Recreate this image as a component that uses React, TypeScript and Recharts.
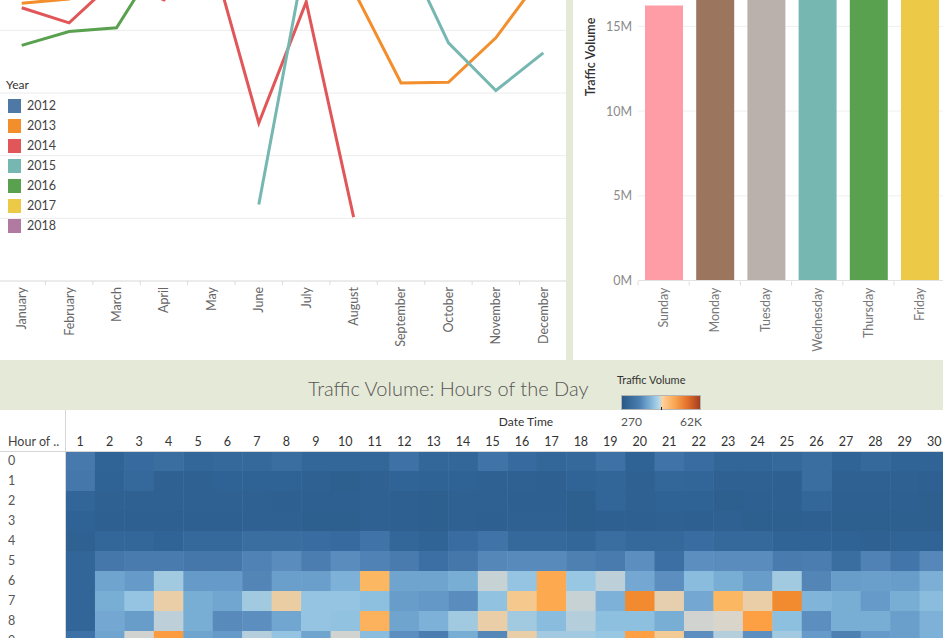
import {
  LineChart,
  Line,
  XAxis,
  YAxis,
  CartesianGrid,
  BarChart,
  Bar,
  Cell,
  ScatterChart,
  Scatter,
} from "recharts";

const FONT = "Lato, 'Open Sans', sans-serif";
const BAND_BG = "#e5e9d7";

// ---- monthly volume by year (millions) ----
const MONTHS = [
  "January", "February", "March", "April", "May", "June",
  "July", "August", "September", "October", "November", "December",
];
const YEARS = ["2012", "2013", "2014", "2015", "2016", "2017", "2018"];
const YEAR_COLORS = ["#4e79a7", "#f28e2b", "#e15759", "#76b7b2", "#59a14f", "#edc948", "#b07aa1"];

const vol2012 = [null, null, null, null, null, null, null, null, null, 2.35, 2.38, 2.31];
const vol2013 = [2.217, 2.25, 2.4, 2.45, 2.5, 2.45, 2.4, 2.32, 1.58, 1.585, 1.94, 2.45];
const vol2014 = [2.18, 2.06, 2.41, 2.243, 2.61, 1.26, 2.227, 0.51, null, null, null, null];
const vol2015 = [null, null, null, null, null, 0.61, 2.63, 2.55, 2.7, 1.9, 1.52, 1.82];
const vol2016 = [1.88, 1.99, 2.02, 2.62, 2.55, 2.5, 2.45, 2.5, 2.48, 2.5, 2.4, 2.35];
const vol2017 = [2.3, 2.35, 2.45, 2.5, 2.55, 2.5, 2.45, 2.55, 2.5, 2.55, 2.45, 2.35];
const vol2018 = [2.35, 2.3, 2.45, 2.5, 2.55, 2.45, 2.4, 2.5, 2.45, null, null, null];
const YEAR_SERIES = [vol2012, vol2013, vol2014, vol2015, vol2016, vol2017, vol2018];
const LINE_TICKS = [0, 0.5, 1, 1.5, 2, 2.5, 3];

// ---- volume by weekday ----
const WEEKDAYS = ["Sunday", "Monday", "Tuesday", "Wednesday", "Thursday", "Friday", "Saturday"];
const WEEKDAY_VOLUME = [16230000, 22800000, 24000000, 24500000, 24800000, 24200000, 19200000];
const WEEKDAY_COLORS = ["#ff9da7", "#9c755f", "#bab0ac", "#76b7b2", "#59a14f", "#edc948", "#b07aa1"];
const BAR_TICKS = [0, 5000000, 10000000, 15000000];

// ---- hour x day-of-month heatmap (thousands) ----
const DAYS = Array.from({ length: 30 }, (_, i) => i + 1);
const HOURS = [0, 1, 2, 3, 4, 5, 6, 7, 8, 9];
const hour0 = [12, 6, 8, 9, 7, 7.5, 7.5, 9, 7, 7, 7, 10, 7, 7, 10.5, 8, 7, 7.5, 10, 5.5, 10.5, 8.5, 6.5, 6.5, 7.5, 9, 6, 7.5, 6, 6];
const hour1 = [11.5, 5.5, 7.5, 5, 5, 5.5, 5.5, 5.5, 5, 4, 5, 6, 5.5, 5.5, 5, 5, 4.5, 6, 6.5, 5, 7, 6.5, 5, 5, 4.5, 9, 5, 5, 5, 4.5];
const hour2 = [6.5, 5, 5, 5, 5, 5, 5, 4.5, 4.5, 4.5, 5, 4.5, 4, 5, 5, 4.5, 4.5, 4, 6.5, 5, 5.5, 5.5, 4, 4.5, 4.5, 7, 4.5, 4.5, 4.5, 4];
const hour3 = [5.5, 4.5, 4.5, 4.5, 4.5, 4.5, 5, 5, 4, 4, 5, 4.5, 4, 5, 4.5, 5, 5, 4, 4.5, 4.5, 5, 4.5, 5, 4, 4, 4.5, 4, 4, 3.8, 3.8];
const hour4 = [5, 7, 7, 6, 7.5, 7.5, 9, 9, 8.5, 8, 10.5, 7, 6, 8.5, 10.5, 7.5, 7.5, 7, 9, 7.5, 7.5, 8.5, 7.5, 7.5, 6, 6, 5.5, 5, 6, 6];
const hour5 = [6.5, 11.5, 12.5, 12.5, 11.5, 11.5, 14, 16, 13, 16, 14, 12.5, 9.5, 11.5, 15, 15.5, 15.5, 13.5, 12.5, 16.5, 9.5, 16.5, 16, 16, 12.5, 13, 9, 14, 11, 15];
const hour6 = [6.5, 21, 19, 28.5, 19, 19, 14.5, 20, 20, 24, 40, 21, 21, 23, 30.5, 27.5, 43, 28, 30, 22, 16.5, 26, 23, 19.5, 28.5, 14.5, 19.5, 20, 19.5, 23.5];
const hour7 = [6.5, 23, 27.5, 34, 23, 21.5, 28.5, 34.5, 27.5, 27.5, 26.5, 19.5, 18.5, 16, 27, 37, 43, 30.5, 24, 50, 33.5, 22, 40, 34, 50, 24.5, 23, 19, 23, 26];
const hour8 = [6.5, 22, 19.5, 30, 23, 15.5, 16.5, 21.5, 27.5, 27, 41, 21, 24, 28.5, 34, 28.5, 26, 29.5, 26.5, 26.5, 23, 31, 31.5, 45, 26.5, 16.5, 23, 23, 20, 24];
const hour9 = [10, 21, 31, 46, 21, 19, 29.5, 27.5, 21, 31, 26, 16.5, 13, 23, 15, 34, 28.5, 28.5, 28, 45, 36, 16.5, 29.5, 16.5, 28.5, 19, 13.5, 19, 20, 24];
const HEAT_ROWS = [hour0, hour1, hour2, hour3, hour4, hour5, hour6, hour7, hour8, hour9];

const HEAT_STOPS: [number, string][] = [
  [0.27, "#2a5986"], [4, "#2d5f8f"], [7, "#33679a"], [10, "#3e71a5"], [13, "#4b7db0"],
  [16, "#5a8dbe"], [20, "#6a9fcc"], [24, "#7db1d7"], [28, "#97c7e2"], [30, "#bdd0da"],
  [31.5, "#dad5cb"], [34, "#e9cea8"], [37, "#f5c88d"], [40, "#fcb762"], [45, "#fca043"],
  [50, "#f28b30"], [62, "#9e3d22"],
];

function hexToRgb(h: string) {
  const n = parseInt(h.slice(1), 16);
  return [(n >> 16) & 255, (n >> 8) & 255, n & 255];
}

function heatColor(v: number) {
  if (v <= HEAT_STOPS[0][0]) return HEAT_STOPS[0][1];
  for (let i = 1; i < HEAT_STOPS.length; i++) {
    const [v1, c1] = HEAT_STOPS[i];
    if (v <= v1) {
      const [v0, c0] = HEAT_STOPS[i - 1];
      const t = (v - v0) / (v1 - v0);
      const a = hexToRgb(c0);
      const b = hexToRgb(c1);
      const m = a.map((x, k) => Math.round(x + (b[k] - x) * t));
      return `rgb(${m[0]},${m[1]},${m[2]})`;
    }
  }
  return HEAT_STOPS[HEAT_STOPS.length - 1][1];
}

const lineRows = MONTHS.map((m, i) => {
  const row: Record<string, string | number | null> = { month: m };
  YEARS.forEach((y, k) => (row[y] = YEAR_SERIES[k][i]));
  return row;
});

const barRows = WEEKDAYS.map((d, i) => ({ day: d, volume: WEEKDAY_VOLUME[i] }));

const heatPoints = HOURS.flatMap((h, r) => DAYS.map((d, c) => ({ day: d, hour: h, v: HEAT_ROWS[r][c] })));

// layout
const LINE_W = 569;
const LINE_BAND = LINE_W / 12;
const BAR_BAND = 51.2;
const HEAT_W = 949;
const HEAT_Y_W = 65.5;
const HEAT_X_H = 41;
const CELL_W = (HEAT_W - HEAT_Y_W) / DAYS.length;
const CELL_H = 20;

function RotatedTick({ x, y, payload, band, color }: any) {
  return (
    <g>
      <line x1={x - band / 2} x2={x - band / 2} y1={y - 6} y2={y - 2} stroke="#dcdcdc" />
      <text
        transform={`translate(${x},${y}) rotate(-90)`}
        textAnchor="end"
        dy="0.35em"
        fontSize={12.5}
        fill={color}
        fontFamily={FONT}
      >
        {payload.value}
      </text>
    </g>
  );
}

function HourTick({ y, payload }: any) {
  return (
    <text x={8} y={y} dy="0.35em" fontSize={12.5} fill="#555" fontFamily={FONT}>
      {payload.value}
    </text>
  );
}

function HeatCell(props: any) {
  const { cx, cy, payload } = props;
  return (
    <rect
      x={cx - CELL_W / 2}
      y={cy - CELL_H / 2}
      width={CELL_W + 0.5}
      height={CELL_H + 0.5}
      fill={heatColor(payload.v)}
    />
  );
}

export default function App() {
  return (
    <div
      style={{
        position: "fixed",
        left: 0,
        top: 0,
        width: 943,
        height: 638,
        overflow: "hidden",
        background: BAND_BG,
        fontFamily: FONT,
      }}
    >
      {/* monthly lines */}
      <div style={{ position: "absolute", left: 0, top: 0, width: 566, height: 360, background: "#fff", overflow: "hidden" }}>
        <div style={{ position: "absolute", left: -2, top: -95 }}>
          <LineChart width={LINE_W} height={456} data={lineRows} margin={{ top: 0, right: 0, bottom: 0, left: 0 }}>
            <CartesianGrid vertical={false} stroke="#ececec" />
            <XAxis
              dataKey="month"
              interval={0}
              height={80}
              padding={{ left: LINE_BAND / 2, right: LINE_BAND / 2 }}
              axisLine={{ stroke: "#e2e2e2" }}
              tickLine={false}
              tickSize={4}
              tickMargin={2}
              tick={(p: any) => <RotatedTick {...p} band={LINE_BAND} color="#666" />}
            />
            <YAxis hide domain={[0, 3]} ticks={LINE_TICKS} />
            {YEARS.map((y, k) => (
              <Line
                key={y}
                dataKey={y}
                stroke={YEAR_COLORS[k]}
                strokeWidth={3}
                dot={false}
                activeDot={false}
                isAnimationActive={false}
              />
            ))}
          </LineChart>
        </div>
        <div style={{ position: "absolute", left: 6, top: 77, fontSize: 12, color: "#333" }}>Year</div>
        {YEARS.map((y, k) => (
          <div
            key={y}
            style={{ position: "absolute", left: 8, top: 98 + k * 20, display: "flex", alignItems: "center", height: 15 }}
          >
            <div style={{ width: 13, height: 14, background: YEAR_COLORS[k] }} />
            <span style={{ marginLeft: 6, fontSize: 12.5, color: "#444" }}>{y}</span>
          </div>
        ))}
      </div>

      {/* weekday bars */}
      <div style={{ position: "absolute", left: 573, top: 0, width: 370, height: 360, background: "#fff", overflow: "hidden" }}>
        <div style={{ position: "absolute", left: 5, top: -143.5 }}>
          <BarChart
            width={60 + BAR_BAND * 7}
            height={423.5 + 80}
            data={barRows}
            margin={{ top: 0, right: 0, bottom: 0, left: 0 }}
          >
            <CartesianGrid vertical={false} stroke="#efefef" />
            <XAxis
              dataKey="day"
              interval={0}
              height={80}
              axisLine={{ stroke: "#e2e2e2" }}
              tickLine={false}
              tickSize={4}
              tickMargin={3}
              tick={(p: any) => <RotatedTick {...p} band={BAR_BAND} color="#777" />}
            />
            <YAxis
              width={60}
              domain={[0, 25000000]}
              ticks={BAR_TICKS}
              axisLine={false}
              tickLine={false}
              tickSize={0}
              tickMargin={6}
              tick={{ fontSize: 12.5, fill: "#8a8a8a", fontFamily: FONT }}
              tickFormatter={(v: number) => `${v / 1000000}M`}
            />
            <Bar dataKey="volume" barSize={38} isAnimationActive={false}>
              {barRows.map((r, i) => (
                <Cell key={r.day} fill={WEEKDAY_COLORS[i]} />
              ))}
            </Bar>
          </BarChart>
        </div>
        <div
          style={{
            position: "absolute",
            left: 17,
            top: 57,
            transform: "translate(-50%, -50%) rotate(-90deg)",
            whiteSpace: "nowrap",
            fontSize: 12.5,
            fontWeight: 600,
            color: "#333",
          }}
        >
          Traffic Volume
        </div>
      </div>

      {/* band title + colour legend */}
      <div
        style={{
          position: "absolute",
          left: 308,
          top: 376,
          fontSize: 20,
          fontWeight: 300,
          color: "#555",
          whiteSpace: "nowrap",
        }}
      >
        Traffic Volume: Hours of the Day
      </div>
      <div style={{ position: "absolute", left: 617, top: 373, fontSize: 11, color: "#333", whiteSpace: "nowrap" }}>
        Traffic Volume
      </div>
      <div
        style={{
          position: "absolute",
          left: 621,
          top: 395,
          width: 78,
          height: 13,
          border: "1px solid #b5b5b5",
          background:
            "linear-gradient(to right, #2a5986 0%, #4a7db0 22%, #8dbfe0 40%, #b8d8ea 48%, #ffd09a 52%, #f9a550 68%, #e2702a 84%, #a33e22 100%)",
        }}
      />
      <div style={{ position: "absolute", left: 661, top: 407, width: 1, height: 5, background: "#222" }} />

      {/* heatmap */}
      <div style={{ position: "absolute", left: 0, top: 410, width: 943, height: 228, background: "#fff", overflow: "hidden" }}>
        <div style={{ position: "absolute", left: 0, top: 0 }}>
          <ScatterChart width={HEAT_W} height={HEAT_X_H + CELL_H * HOURS.length} margin={{ top: 0, right: 0, bottom: 0, left: 0 }}>
            <XAxis
              type="number"
              dataKey="day"
              orientation="top"
              domain={[0.5, 30.5]}
              ticks={DAYS}
              interval={0}
              height={HEAT_X_H}
              axisLine={false}
              tickLine={false}
              tickSize={0}
              tickMargin={5}
              tick={{ fontSize: 12.5, fill: "#333", fontFamily: FONT }}
            />
            <YAxis
              type="number"
              dataKey="hour"
              domain={[-0.5, 9.5]}
              reversed
              ticks={HOURS}
              interval={0}
              width={HEAT_Y_W}
              axisLine={false}
              tickLine={false}
              tick={(p: any) => <HourTick {...p} />}
            />
            <Scatter data={heatPoints} shape={(p: any) => <HeatCell {...p} />} isAnimationActive={false} />
          </ScatterChart>
        </div>
        <div style={{ position: "absolute", left: 65, top: 0, width: 1, height: 228, background: "#d6d6d6" }} />
        <div style={{ position: "absolute", left: 0, top: 41, width: 943, height: 1, background: "#d6d6d6" }} />
        <div style={{ position: "absolute", left: 8, top: 24, fontSize: 12.5, color: "#444", whiteSpace: "nowrap" }}>
          Hour of ..
        </div>
        <div
          style={{
            position: "absolute",
            left: 526,
            top: 4,
            transform: "translateX(-50%)",
            fontSize: 12,
            color: "#333",
            whiteSpace: "nowrap",
          }}
        >
          Date Time
        </div>
        <div style={{ position: "absolute", left: 621, top: 4, fontSize: 12, color: "#555" }}>270</div>
        <div style={{ position: "absolute", left: 680, top: 4, fontSize: 12, color: "#555" }}>62K</div>
      </div>
    </div>
  );
}
